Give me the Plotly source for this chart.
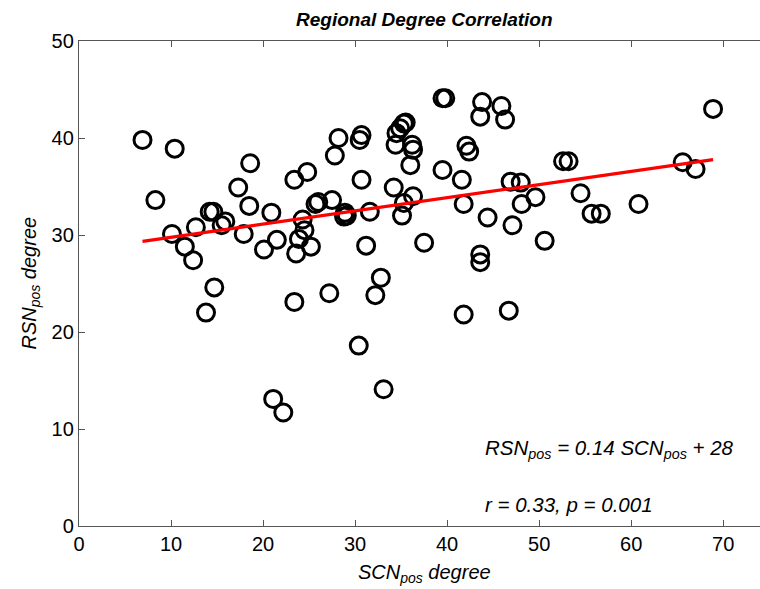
import plotly.graph_objects as go
import numpy as np

# SCN_pos degree (x) and RSN_pos degree (y)
scn_deg = [6.9, 10.4, 8.3, 18.6, 17.3, 23.4, 24.8, 14.2, 14.6, 18.5, 20.9, 15.9, 15.5, 12.7,
           10.1, 17.9, 11.5, 12.4, 20.1, 21.5, 24.3, 24.5, 23.9, 23.6, 25.2, 25.7, 26.0, 14.7,
           13.8, 23.4, 21.1, 22.2, 39.5, 39.8, 43.8, 43.6, 45.9, 46.3, 35.3, 35.5, 34.9, 34.5,
           30.7, 30.5, 28.2, 27.8, 34.4, 36.2, 36.3, 42.1, 42.4, 36.0, 39.5, 41.6, 30.7, 34.2,
           36.3, 46.9, 48.0, 49.6, 48.1, 41.8, 27.5, 35.3, 35.1, 31.6, 28.9, 29.1, 28.8, 44.4,
           47.1, 31.2, 37.5, 43.6, 43.6, 50.6, 32.8, 27.2, 32.2, 41.8, 46.7, 30.4, 33.1, 68.9,
           52.6, 53.2, 65.6, 67.0, 54.5, 55.7, 56.7, 60.8]
rsn_deg = [39.8, 38.9, 33.6, 37.4, 34.9, 35.7, 36.5, 32.4, 32.4, 33.0, 32.3, 31.4, 31.0, 30.8,
           30.1, 30.1, 28.8, 27.4, 28.5, 29.5, 31.6, 30.5, 29.6, 28.1, 28.8, 33.2, 33.4, 24.6,
           22.0, 23.1, 13.1, 11.7, 44.1, 44.1, 43.7, 42.2, 43.3, 41.9, 41.5, 41.6, 41.0, 40.5,
           40.3, 39.8, 40.0, 38.2, 39.3, 39.3, 38.8, 39.2, 38.6, 37.2, 36.7, 35.7, 35.7, 34.9,
           34.0, 35.5, 35.4, 33.9, 33.2, 33.2, 33.6, 33.3, 32.0, 32.4, 32.3, 32.0, 31.9, 31.8,
           31.0, 28.9, 29.2, 28.0, 27.2, 29.4, 25.6, 24.0, 23.8, 21.8, 22.2, 18.6, 14.1, 43.0,
           37.6, 37.6, 37.5, 36.8, 34.3, 32.2, 32.2, 33.2]

# fitted line
fit_slope = 0.136
fit_intercept = 28.4

x_ticks = [0, 10, 20, 30, 40, 50, 60, 70]
y_ticks = [0, 10, 20, 30, 40, 50]

FONT = "Liberation Sans, Arial, Helvetica, sans-serif"

x_line = np.array([min(scn_deg), max(scn_deg)])
y_line = fit_slope * x_line + fit_intercept

fig = go.Figure()
fig.add_trace(go.Scatter(
    x=scn_deg, y=rsn_deg, mode="markers",
    marker=dict(symbol="circle-open", size=17, color="black", line=dict(width=3, color="black")),
    showlegend=False, hoverinfo="x+y"))
fig.add_trace(go.Scatter(
    x=x_line, y=y_line, mode="lines",
    line=dict(color="#ff0000", width=3.2), showlegend=False))

fig.update_layout(
    width=760, height=589,
    margin=dict(l=79, r=0, t=41, b=63),
    paper_bgcolor="white", plot_bgcolor="white",
    font=dict(family=FONT, size=20, color="black"),
    xaxis=dict(range=[0, 74], tickvals=x_ticks, ticks="inside", ticklen=6, tickcolor="#555",
               showline=True, linecolor="#555", linewidth=1.3, mirror="ticks",
               showgrid=False, zeroline=False, tickfont=dict(size=20, family=FONT)),
    yaxis=dict(range=[0, 50], tickvals=y_ticks, ticks="inside", ticklen=6, tickcolor="#555",
               showline=True, linecolor="#555", linewidth=1.3, mirror=False,
               showgrid=False, zeroline=False, tickfont=dict(size=20, family=FONT)),
    annotations=[
        dict(text="<b><i>Regional Degree Correlation</i></b>", xref="paper", yref="paper",
             x=(425 - 79) / 681, y=1, yshift=22, showarrow=False, xanchor="center", yanchor="middle",
             font=dict(size=19, family=FONT)),
        dict(text="<i>SCN<sub>pos</sub> degree</i>", xref="paper", yref="paper",
             x=(425 - 79) / 681, y=0, yshift=-47, showarrow=False, xanchor="center", yanchor="middle",
             font=dict(size=20, family=FONT)),
        dict(text="<i>RSN<sub>pos</sub> degree</i>", xref="paper", yref="paper",
             x=0, xshift=-49, y=0.5, showarrow=False, textangle=-90, xanchor="center", yanchor="middle",
             font=dict(size=20, family=FONT)),
        dict(text="<i>RSN<sub>pos</sub> = 0.14 SCN<sub>pos</sub> + 28</i>", xref="x", yref="y",
             x=(483 - 79) / 9.2, y=(525.7 - 449) / 9.7, showarrow=False, xanchor="left", yanchor="middle",
             font=dict(size=20.5, family=FONT)),
        dict(text="<i>r = 0.33, p = 0.001</i>", xref="x", yref="y",
             x=(483 - 79) / 9.2, y=(525.7 - 504) / 9.7, showarrow=False, xanchor="left", yanchor="middle",
             font=dict(size=20.5, family=FONT)),
    ],
)

fig.write_html("out.html")
